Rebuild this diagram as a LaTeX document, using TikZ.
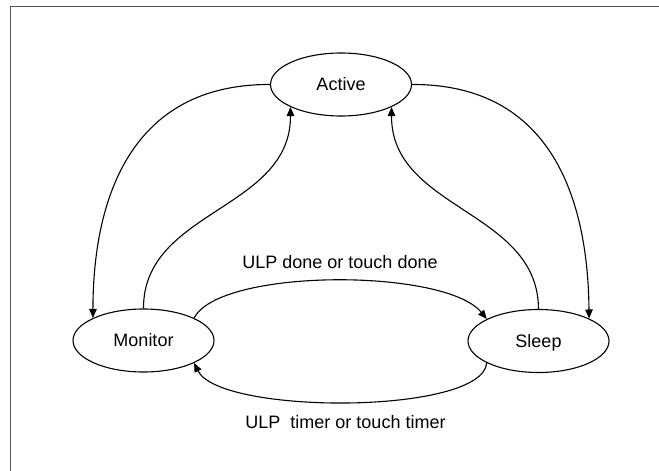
\documentclass[tikz,border=0pt]{standalone}
\usepackage{fontspec}
\setmainfont{Liberation Sans}
\usetikzlibrary{shapes.geometric,arrows.meta}
\definecolor{framegray}{RGB}{85,85,85}
\begin{document}
\begin{tikzpicture}[x=1pt,y=-1pt,
  state/.style={ellipse,draw,line width=1.1pt,minimum width=141pt,minimum height=63pt,
    inner sep=0pt,font=\fontsize{18}{21}\selectfont,text height=12.9pt,text depth=0pt},
  edge/.style={line width=1.1pt,-{Triangle[length=9pt,width=7.5pt]}},
  lbl/.style={font=\fontsize{18}{21}\selectfont,anchor=base,inner sep=0pt}]
\fill[white] (0,0) rectangle (659,471);
\useasboundingbox (0,0) rectangle (659,471);
\draw[framegray,line width=1.4pt] (10.5,471) -- (10.5,6.5) -- (659,6.5);

\node[state] (act) at (341,84.5) {Active};
\node[state] (mon) at (143.5,340.5) {Monitor};
\node[state] (slp) at (538.5,341) {Sleep};

\draw[edge] (act.west) .. controls (130,84) and (93,200) .. (mon.156);
\draw[edge] (mon.north) .. controls (143,210) and (291,210) .. (act.204);
\draw[edge] (slp.north) .. controls (538,210) and (391,210) .. (act.336);
\draw[edge] (act.east) .. controls (552,84) and (588,200) .. (slp.24);
\draw[edge] (mon.24) .. controls (220,268) and (445,268) .. (slp.157);
\draw[edge] (slp.-157) .. controls (482,415) and (220,415) .. (mon.-24);

\node[lbl] (t1) at (340,268) {ULP done or touch done};
\node[lbl] (t2) at (345.5,428) {ULP\ \ timer or touch timer};
\end{tikzpicture}
\end{document}
